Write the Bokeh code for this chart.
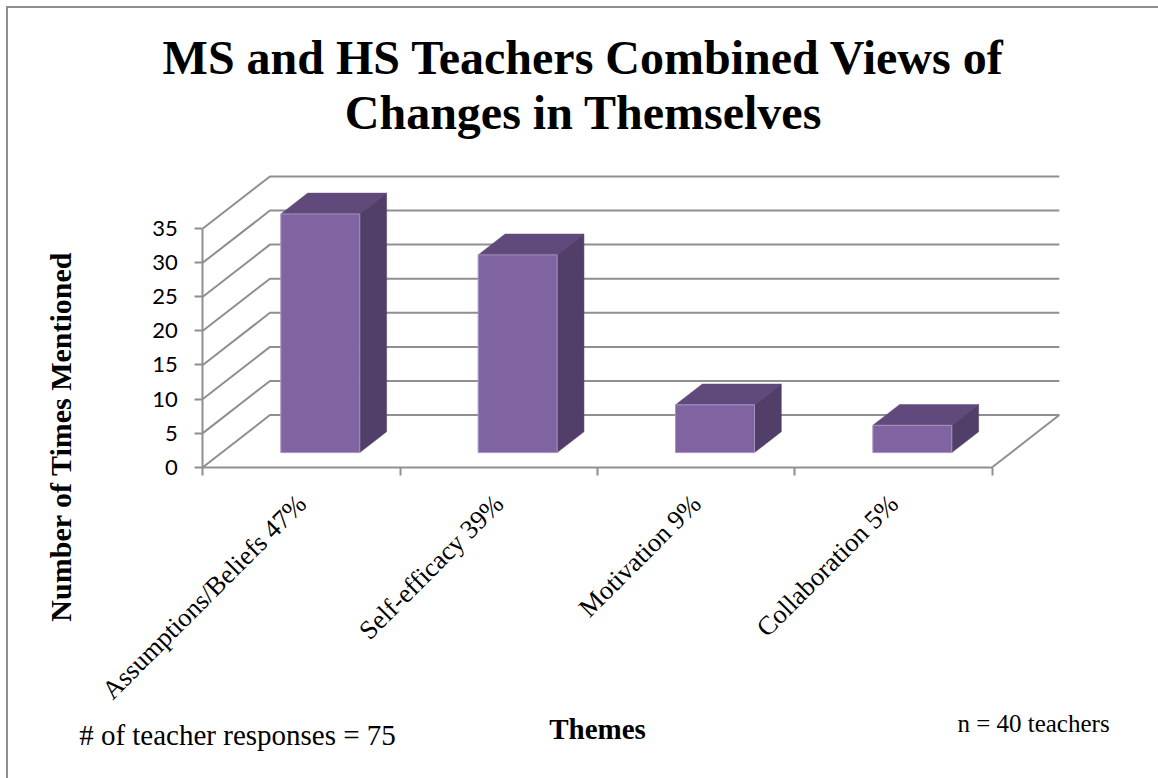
from bokeh.plotting import figure
from bokeh.embed import file_html
from bokeh.resources import INLINE
from bokeh.models import Range1d, FixedTicker, LinearAxis, Label
import math

categories = ["Assumptions/Beliefs 47%", "Self-efficacy 39%", "Motivation 9%", "Collaboration 5%"]
values = [35, 29, 7, 4]
y_ticks = [0, 5, 10, 15, 20, 25, 30, 35]
title_lines = ["MS and HS Teachers Combined Views of", "Changes in Themselves"]

GRAY = "#8f8f8f"
SERIF = "Liberation Serif"
PX_X, PX_Y = 197, 6.8         # pixels per category, pixels per value unit
DX, DY = 67 / PX_X, 52 / PX_Y # 3-D depth vector, in data units
F0, F1 = 0.28, 0.68           # bar depth span
BAR_L, BAR_R = 0.3, 0.7

WIDTH, HEIGHT = 1150, 770
# origin of the chart on the canvas; the canvas itself sits at page (8, 8)
ORIGIN_X, ORIGIN_Y = 194, 457.5

p = figure(width=WIDTH, height=HEIGHT, output_backend="svg", toolbar_location=None,
           x_range=Range1d(-ORIGIN_X / PX_X, (WIDTH - ORIGIN_X) / PX_X),
           y_range=Range1d(-(HEIGHT - ORIGIN_Y) / PX_Y, ORIGIN_Y / PX_Y),
           x_axis_type=None, y_axis_type=None, tools="",
           min_border_left=0, min_border_right=0, min_border_top=0, min_border_bottom=0,
           styles={"margin": "6px 0 0 6px", "border-top": "2px solid #8f8f8f",
                   "border-left": "2px solid #8f8f8f", "box-sizing": "content-box"})
p.outline_line_color = None
p.grid.visible = False

def proj(x, y, f):
    return x + f * DX, y + f * DY

# walls
n = len(categories)
xs, ys = [], []
for t in y_ticks:
    x0, y0 = proj(0, t, 0)
    x1, y1 = proj(0, t, 1)
    x2, y2 = proj(n, t, 1)
    xs.append([x0, x1, x2])
    ys.append([y0, y1, y2])
fx0, fy0 = proj(n, 0, 0)
fx1, fy1 = proj(n, 0, 1)
xs.append([fx0, fx1])
ys.append([fy0, fy1])
p.multi_line(xs, ys, line_color=GRAY, line_width=2)

# bars
for i, v in enumerate(values):
    l, r = i + BAR_L, i + BAR_R
    a = [proj(l, v, F0), proj(r, v, F0), proj(r, v, F1), proj(l, v, F1)]
    p.patch([q[0] for q in a], [q[1] for q in a], fill_color="#604A7B", line_color="#604A7B", line_width=0.5)
    b = [proj(r, 0, F0), proj(r, 0, F1), proj(r, v, F1), proj(r, v, F0)]
    p.patch([q[0] for q in b], [q[1] for q in b], fill_color="#523F69", line_color="#523F69", line_width=0.5)
    c = [proj(l, 0, F0), proj(r, 0, F0), proj(r, v, F0), proj(l, v, F0)]
    p.patch([q[0] for q in c], [q[1] for q in c], fill_color="#8064A2", line_color="#A593BD", line_width=1)

# axes, pinned inside the full-canvas frame
left = LinearAxis(ticker=FixedTicker(ticks=y_ticks), bounds=(0, 35), fixed_location=0)
left.axis_line_color = GRAY
left.axis_line_width = 2
left.major_tick_line_color = GRAY
left.major_tick_line_width = 2
left.major_tick_out = 8
left.major_tick_in = 0
left.minor_tick_line_color = None
left.major_label_text_font = "Lato"
left.major_label_text_font_size = "22px"
left.major_label_text_color = "#000000"
left.major_label_standoff = 17
p.add_layout(left, "left")

centers = [i + 0.5 for i in range(n)]
bottom = LinearAxis(ticker=FixedTicker(ticks=centers, minor_ticks=list(range(n + 1))), bounds=(0, n), fixed_location=0)
bottom.major_label_overrides = {c: t for c, t in zip(centers, categories)}
bottom.major_label_orientation = math.pi / 4
bottom.major_label_text_font = SERIF
bottom.major_label_text_font_size = "26.5px"
bottom.major_label_text_color = "#000000"
bottom.major_label_standoff = 24
bottom.axis_line_color = GRAY
bottom.axis_line_width = 2
bottom.major_tick_line_color = None
bottom.minor_tick_line_color = GRAY
bottom.minor_tick_line_width = 2
bottom.minor_tick_out = 8
bottom.minor_tick_in = 0
p.add_layout(bottom, "below")

def lab(text, x, y, size, bold=False, angle=0, align="center"):
    # x, y are page pixels; Label screen units count from the canvas' bottom-left corner
    p.add_layout(Label(text=text, x=x - 8, y=HEIGHT + 8 - y, x_units="screen", y_units="screen",
                       text_font=SERIF, text_font_size=size, text_color="#000000",
                       text_font_style="bold" if bold else "normal", angle=angle,
                       text_align=align, text_baseline="middle"))

lab(title_lines[0], 583, 55, "48px", True)
lab(title_lines[1], 583, 110, "48px", True)
lab("Number of Times Mentioned", 60, 434, "30px", True, angle=math.pi / 2)
lab("Themes", 597, 726, "29px", True)
lab("# of teacher responses = 75", 237, 732, "29px")
lab("n = 40 teachers", 1033, 721, "25px")

open("out.html", "w").write(file_html(p, INLINE))
